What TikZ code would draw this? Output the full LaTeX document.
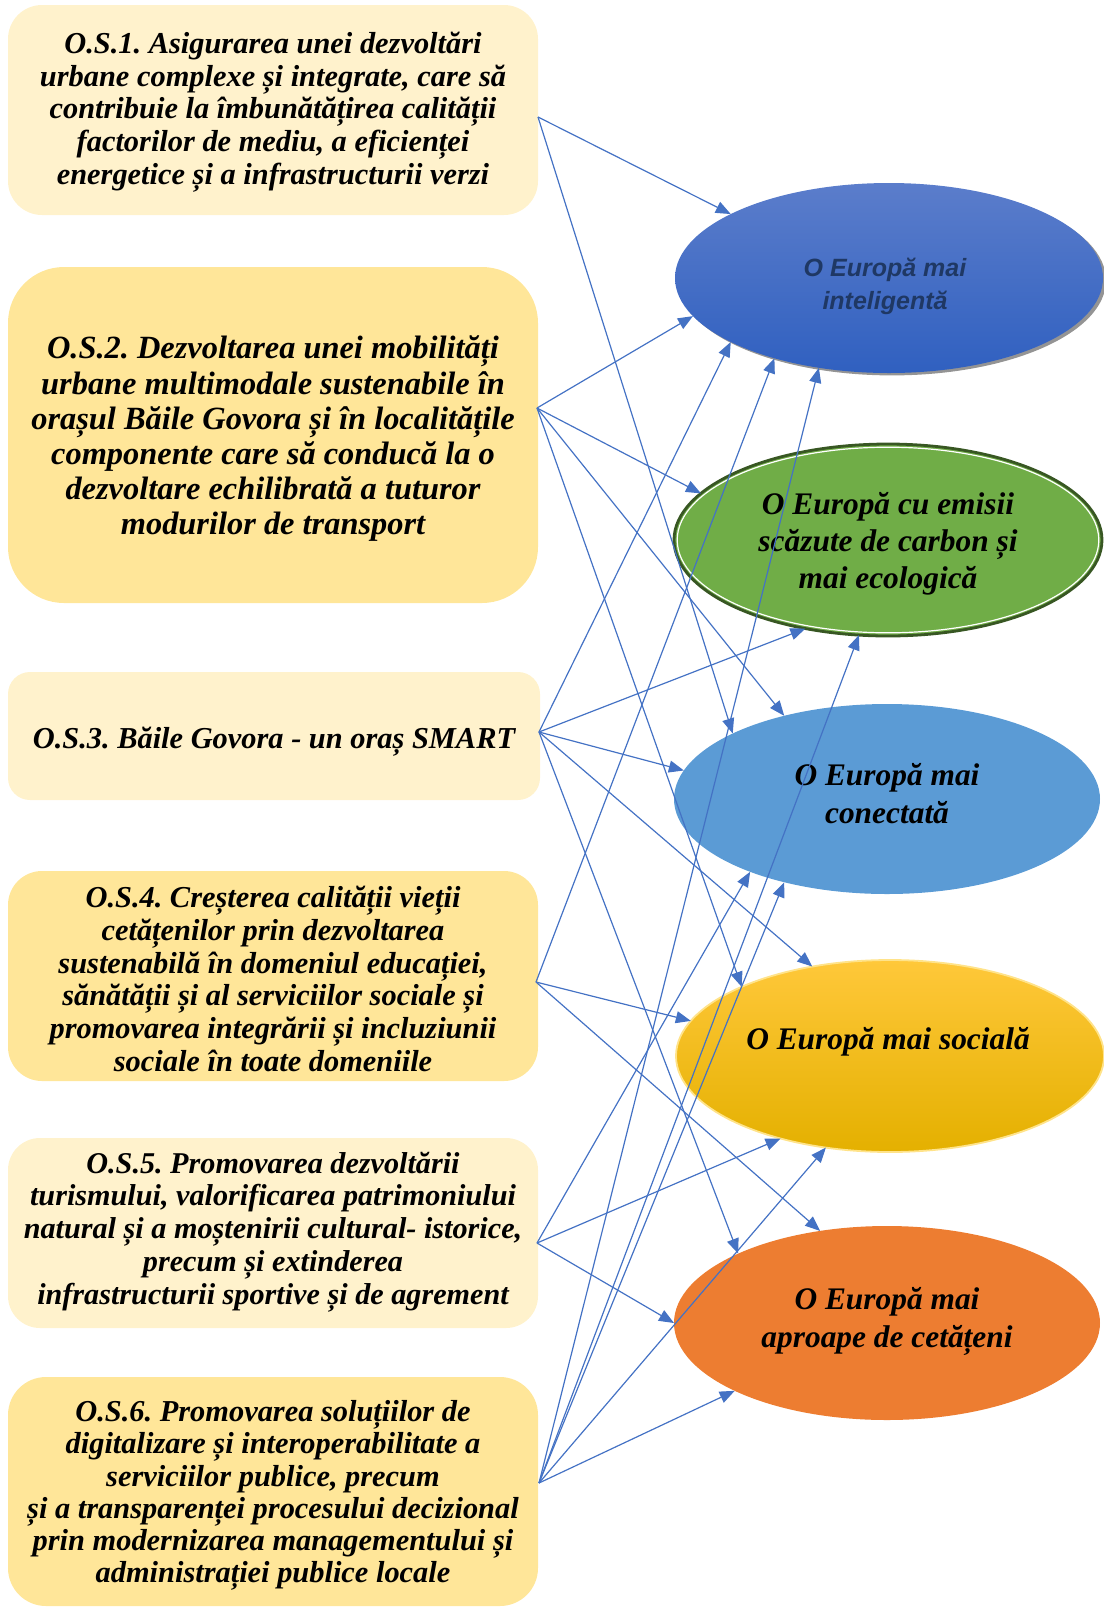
\documentclass[tikz,border=0pt]{standalone}
\usepackage{fontspec}
\setmainfont{Liberation Serif}
\newfontfamily\arialf{Liberation Sans}
\usetikzlibrary{arrows.meta,shapes.geometric,shadows,calc}
\frenchspacing

\definecolor{boxlight}{HTML}{FFF2CC}
\definecolor{boxdark}{HTML}{FFE699}
\definecolor{arrowblue}{HTML}{4472C4}
\definecolor{egreen}{HTML}{70AD47}
\definecolor{egreendk}{HTML}{385723}
\definecolor{eblue}{HTML}{5B9BD5}
\definecolor{eorange}{HTML}{ED7D31}
\definecolor{navytext}{HTML}{1F3864}
\definecolor{eonetop}{HTML}{5B7DCB}
\definecolor{eonebot}{HTML}{3060C0}
\definecolor{eyeltop}{HTML}{FFC83A}
\definecolor{eyelmid}{HTML}{FFC000}
\definecolor{eyelbot}{HTML}{E4B000}
\definecolor{eyelline}{HTML}{FFE38A}

\tikzset{
  osbox/.style={rectangle, inner sep=0pt, outer sep=0pt, minimum width=265pt},
  ostext/.style={inner sep=0pt, align=center,
    font=\fontsize{15.2}{16.4}\selectfont\bfseries\itshape},
  ell/.style={ellipse, inner sep=0pt, outer sep=0pt, minimum width=214pt, minimum height=95pt},
  etext/.style={align=center, inner sep=0pt, font=\fontsize{15.7}{18.4}\selectfont\bfseries\itshape},
  arr/.style={draw=arrowblue, line width=0.6pt, -{Triangle[length=7.5pt,width=6pt]}}
}

\begin{document}
\begin{tikzpicture}[x=0.5pt,y=-0.5pt]
\useasboundingbox (0,0) rectangle (1104,1608);

% objective boxes
\node[osbox, fill=boxlight, minimum height=105pt, rounded corners=17pt] (b1) at (273,110) {};
\node[osbox, fill=boxdark, minimum height=168pt, rounded corners=28pt] (b2) at (273,435) {};
\node[osbox, fill=boxlight, minimum width=266pt, minimum height=64pt, rounded corners=11pt] (b3) at (274,736) {};
\node[osbox, fill=boxdark, minimum height=105pt, rounded corners=17pt] (b4) at (273,976) {};
\node[osbox, fill=boxlight, minimum height=95pt, rounded corners=16pt] (b5) at (273,1233) {};
\node[osbox, fill=boxdark, minimum height=114.5pt, rounded corners=19pt] (b6) at (273,1491.5) {};

\node[ostext] (b1t) at ($(b1.center)+(0,2)$)
 {O.S.1. Asigurarea unei dezvoltări\\urbane complexe și integrate, care să\\contribuie la îmbunătățirea calității\\factorilor de mediu, a eficienței\\energetice și a infrastructurii verzi};
\node[ostext, font=\fontsize{16.2}{17.6}\selectfont\bfseries\itshape] (b2t) at ($(b2.center)+(0,4)$)
 {O.S.2. Dezvoltarea unei mobilități\\urbane multimodale sustenabile în\\orașul Băile Govora și în localitățile\\componente care să conducă la o\\dezvoltare echilibrată a tuturor\\modurilor de transport};
\node[ostext] (b3t) at ($(b3.center)+(0,6)$)
 {O.S.3. Băile Govora - un oraș SMART};
\node[ostext] (b4t) at ($(b4.center)+(0,3)$)
 {O.S.4. Creșterea calității vieții\\cetățenilor prin dezvoltarea\\sustenabilă în domeniul educației,\\sănătății și al serviciilor sociale și\\promovarea integrării și incluziunii\\sociale în toate domeniile};
\node[ostext, font=\fontsize{15.1}{16.4}\selectfont\bfseries\itshape] (b5t) at ($(b5.center)+(0,-1)$)
 {O.S.5. Promovarea dezvoltării\\turismului, valorificarea patrimoniului\\natural și a moștenirii cultural- istorice,\\precum și extinderea\\infrastructurii sportive și de agrement};
\node[ostext, font=\fontsize{15.2}{16.1}\selectfont\bfseries\itshape] (b6t) at ($(b6.center)+(0,4)$)
 {O.S.6. Promovarea soluțiilor de\\digitalizare și interoperabilitate a\\serviciilor publice, precum\\și a transparenței procesului decizional\\prin modernizarea managementului și\\administrației publice locale};

% source points
\coordinate (s1) at ($(b1.east)+(0,7)$);
\coordinate (s2) at ($(b2.east)+(-1,-27)$);
\coordinate (s3) at ($(b3.east)+(-1,-4)$);
\coordinate (s4) at ($(b4.east)+(-2,6)$);
\coordinate (s5) at ($(b5.east)+(-1,10)$);
\coordinate (s6) at ($(b6.east)+(1,-8.5)$);

% ellipses
\node[ell, top color=eonetop, bottom color=eonebot,
  drop shadow={shadow xshift=1.5pt, shadow yshift=-1.2pt, fill=black!70, opacity=0.6}] (e1) at (889,278) {};
\node[ell, fill=egreen, draw=egreendk, line width=1.4pt, minimum height=96pt] (e2) at (888,540) {};
\draw[white, line width=0.6pt] (e2.center) ellipse [x radius=105.4pt, y radius=46.4pt];
\node[ell, fill=eblue, minimum width=213pt] (e3) at (887,799) {};
\node[ell, top color=eyeltop, middle color=eyelmid, bottom color=eyelbot, draw=eyelline, line width=0.9pt, minimum height=96pt] (e4) at (890,1056) {};
\node[ell, fill=eorange, minimum width=213pt, minimum height=97pt] (e5) at (887,1323) {};

% ellipse texts
\node[etext, font=\fontsize{12.5}{16.4}\selectfont\arialf\bfseries\itshape, text=navytext] (t1) at (885,286) {O Europă mai\\inteligentă};
\node[etext] (t2) at (888,544) {O Europă cu emisii\\scăzute de carbon și\\mai ecologică};
\node[etext, font=\fontsize{15.7}{19}\selectfont\bfseries\itshape] (t3) at (887,794) {O Europă mai\\conectată};
\node[etext] (t4) at (888,1042) {O Europă mai socială};
\node[etext, font=\fontsize{15.7}{19}\selectfont\bfseries\itshape] (t5) at (887,1321) {O Europă mai\\aproape de cetățeni};

% connectors
\draw[arr] (s1) -- (e1.158);
\draw[arr] (s1) -- (e3.157.9);
\draw[arr] (s2) -- (e1.191.5);
\draw[arr] (s2) -- (e2.166.7);
\draw[arr] (s2) -- (e3.141.4);
\draw[arr] (s2) -- (e4.155.2);
\draw[arr] (s3) -- (e1.202.6);
\draw[arr] (s3) -- (e2.227.6);
\draw[arr] (s3) -- (e3.172.5);
\draw[arr] (s3) -- (e4.131.7);
\draw[arr] (s3) -- (e5.155.2);
\draw[arr] (s4) -- (e1.215.7);
\draw[arr] (s4) -- (e4.170.5);
\draw[arr] (s4) -- (e5.126.1);
\draw[arr] (s5) -- (e3.208.4);
\draw[arr] (s5) -- (e4.217.3);
\draw[arr] (s5) -- (e5.180);
\draw[arr] (s6) -- (e1.232.5);
\draw[arr] (s6) -- (e2.253.2);
\draw[arr] (s6) -- (e3.219);
\draw[arr] (s6) -- (e4.235.6);
\draw[arr] (s6) -- (e5.204.6);
\end{tikzpicture}
\end{document}
